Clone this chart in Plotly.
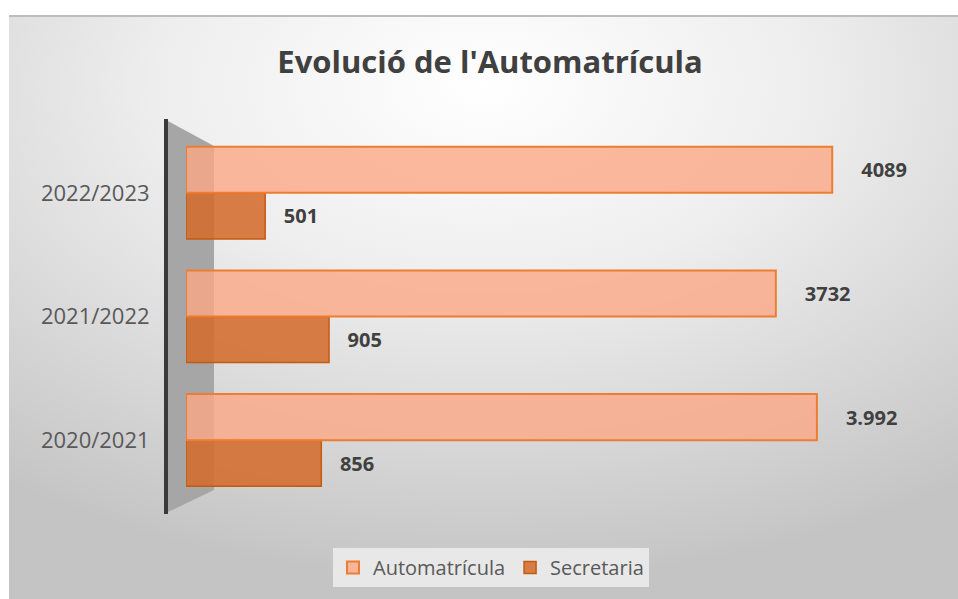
import base64

import plotly.graph_objects as go

CATEGORIES = ["2020/2021", "2021/2022", "2022/2023"]
AUTOMATRICULA = [3992, 3732, 4089]
SECRETARIA = [856, 905, 501]
AUTO_LABELS = ["3.992", "3732", "4089"]
SECRE_LABELS = ["856", "905", "501"]

FONT = "Open Sans"

# plot area in pixels, used to place the decoration in paper coords
L, R, T, B = 186, 913, 131, 502
W, H = R - L, B - T


def px(x):
    return (x - L) / W


def py(y):
    return (B - y) / H


# radial grey background, as an inline svg
svg = (
    "<svg xmlns='http://www.w3.org/2000/svg' width='949' height='584' preserveAspectRatio='none'>"
    "<defs><radialGradient id='g' cx='50%' cy='12%' r='85%'>"
    "<stop offset='0' stop-color='#ffffff'/>"
    "<stop offset='0.4' stop-color='#eeeeee'/>"
    "<stop offset='1' stop-color='#c4c4c4'/>"
    "</radialGradient></defs>"
    "<rect width='949' height='584' fill='url(#g)'/>"
    "<line x1='0' y1='1' x2='949' y2='1' stroke='#bdbdbd' stroke-width='2'/>"
    "</svg>"
)
bg_src = "data:image/svg+xml;base64," + base64.b64encode(svg.encode()).decode()

fig = go.Figure()

fig.add_trace(go.Bar(
    y=CATEGORIES,
    x=SECRETARIA,
    orientation="h",
    name="Secretaria",
    text=SECRE_LABELS,
    texttemplate="\u00a0\u00a0\u00a0%{text}",
    textposition="outside",
    textfont=dict(family=FONT, size=20, color="#404040", weight="bold"),
    marker=dict(color="rgba(212,108,44,0.88)", line=dict(color="#c55a11", width=1.5)),
    cliponaxis=False,
    legendrank=2,
))
fig.add_trace(go.Bar(
    y=CATEGORIES,
    x=AUTOMATRICULA,
    orientation="h",
    name="Automatrícula",
    text=AUTO_LABELS,
    texttemplate="\u00a0\u00a0\u00a0\u00a0\u00a0%{text}",
    textposition="outside",
    textfont=dict(family=FONT, size=20, color="#404040", weight="bold"),
    marker=dict(color="rgba(252,168,133,0.8)", line=dict(color="#ed7d31", width=2)),
    cliponaxis=False,
    legendrank=1,
))

fig.update_layout(
    width=958,
    height=599,
    barmode="group",
    bargap=0.255,
    bargroupgap=0,
    paper_bgcolor="white",
    plot_bgcolor="rgba(0,0,0,0)",
    margin=dict(l=L, r=958 - R, t=T, b=599 - B, autoexpand=False),
    title=dict(
        text="<b>Evolució de l'Automatrícula</b>",
        font=dict(family=FONT, size=31, color="#404040"),
        x=490 / 958,
        xanchor="center",
        y=1 - 62 / 599,
        yanchor="middle",
    ),
    xaxis=dict(
        range=[0, 4600],
        visible=False,
        fixedrange=True,
    ),
    yaxis=dict(
        categoryorder="array",
        categoryarray=CATEGORIES,
        range=[-0.5, 2.5],
        showgrid=False,
        zeroline=False,
        showline=False,
        ticks="outside",
        ticklen=31,
        tickcolor="rgba(0,0,0,0)",
        tickfont=dict(family=FONT, size=22, color="#595959"),
        fixedrange=True,
    ),
    legend=dict(
        orientation="h",
        x=px(491),
        xanchor="center",
        y=py(548),
        yanchor="top",
        bgcolor="#e8e8e8",
        font=dict(family=FONT, size=20, color="#595959"),
        traceorder="normal",
    ),
    images=[dict(
        source=bg_src,
        xref="paper",
        yref="paper",
        x=px(9),
        y=py(15),
        sizex=(958 - 9) / W,
        sizey=(599 - 15) / H,
        xanchor="left",
        yanchor="top",
        sizing="stretch",
        layer="below",
    )],
    shapes=[
        # grey side wall behind the bars
        dict(
            type="path",
            xref="paper",
            yref="paper",
            path=f"M {px(166)},{py(120)} L {px(214)},{py(146)} L {px(214)},{py(490)} L {px(166)},{py(513)} Z",
            fillcolor="#a6a6a6",
            line=dict(width=0),
            layer="below",
        ),
        # axis line
        dict(
            type="line",
            xref="paper",
            yref="paper",
            x0=px(166), x1=px(166),
            y0=py(119), y1=py(514),
            line=dict(color="#3a3a3a", width=4),
        ),
    ],
)

# the page body has a default margin; drop it so the figure sits at 0,0
fig.write_html(
    "out.html",
    config=dict(displayModeBar=False),
    post_script="document.body.style.margin='0';",
)
